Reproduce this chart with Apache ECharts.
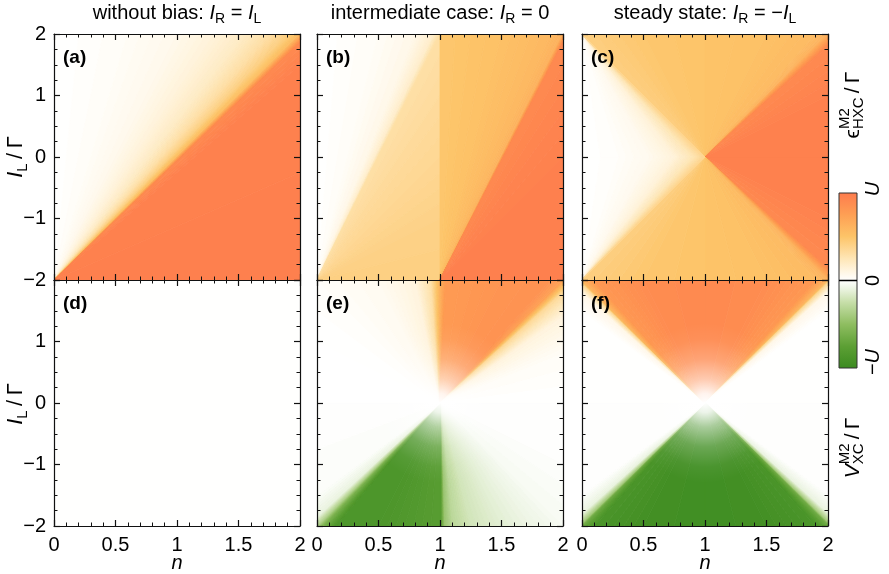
<!DOCTYPE html>
<html><head><meta charset="utf-8">
<script src="https://cdn.jsdelivr.net/npm/echarts/dist/echarts.min.js"></script>
<style>html,body{margin:0;padding:0;background:#fff}#c{width:889px;height:574px}</style>
</head><body><div id="c"></div>
<script>
// ---------------- data ----------------
const nTicks = [0, 0.5, 1, 1.5, 2];          // x axis: n
const iTicks = [-2, -1, 0, 1, 2];            // y axis: I_L / Gamma
const colorbarTicks = [1, 0, -1];
const colorbarLabels = ['U', '0', '−U'];
// colour scale (value in units of U)
const cmapValues = [-1, -0.75, -0.5, -0.25, -0.1, 0, 0.1, 0.25, 0.5, 0.75, 1];
const cmapColors = ['#3a8a1f','#5c9f34','#8ebd60','#c6dea8','#eaf3df','#ffffff','#fff6e3','#fee6b6','#fdc468','#fe9f54','#fe7b4d'];

// Each field is read off the picture as value sheets: rays from an apex [n, I],
// with the value (units of U) read where each ray meets the panel edge [n, I, value].
// (a) eps_HXC, I_R = I_L
const aApex = [0, -2];
const aFar = [[0,2,0.0],[0.6,2,0.03],[1.0,2,0.07],[1.3,2,0.13],[1.55,2,0.2],[1.75,2,0.3],[1.9,2,0.42],[2,2,0.55],[2,1.85,0.9],[2,1.5,0.95],[2,-2,0.97]];
// (b) eps_HXC, I_R = 0
const bLeftApex = [0, -2];
const bLeftFar = [[0,2,0.0],[0.5,2,0.03],[0.8,2,0.08],[0.95,2,0.18],[1,2,0.3],[1,1,0.33],[1,0,0.36],[1,-1,0.4],[1,-2,0.42]];
const bRightApex = [1, -2];
const bRightFar = [[1,2,0.48],[1.5,2,0.52],[1.9,2,0.58],[2,2,0.62],[2,1.85,0.9],[2,0,0.96],[2,-2,0.97]];
// (c) eps_HXC, I_R = -I_L
const cApex = [1, 0];
const cFar = [[0,2,0.42],[0.5,2,0.48],[1,2,0.5],[1.5,2,0.52],[1.9,2,0.56],[2,2,0.62],[2,1.8,0.9],[2,1,0.95],[2,0,0.96],[2,-1,0.95],[2,-1.8,0.9],[2,-2,0.62],[1.9,-2,0.56],[1.5,-2,0.52],[1,-2,0.5],[0.5,-2,0.48],[0,-2,0.42]];
const cUpApex = [0, 2];
const cUpFar = [[0,0,0.0],[0.3,0,0.02],[0.55,0,0.06],[0.75,0,0.13],[0.9,0,0.25],[1,0,0.38]];
const cLowApex = [0, -2];
const cLowFar = [[0,0,0.0],[0.3,0,0.02],[0.55,0,0.06],[0.75,0,0.13],[0.9,0,0.25],[1,0,0.38]];
// (d) V_XC, I_R = I_L
const dLevel = 0.004;
// (e) V_XC, I_R = 0
const eApex = [1, 0];
const eUpFar = [[0,0,0],[0,1,0.0],[0,2,0.02],[0.5,2,0.05],[0.8,2,0.12],[0.93,2,0.3],[1,2,0.6],[1.05,2,0.78],[1.5,2,0.82],[1.9,2,0.84],[2,2,0.75],[2,1.8,0.35],[2,1.4,0.12],[2,0.8,0.03],[2,0,0]];
const eLowFar = [[2,0,0],[2,-1,-0.01],[2,-2,-0.04],[1.8,-2,-0.07],[1.5,-2,-0.13],[1.25,-2,-0.2],[1.1,-2,-0.3],[1.03,-2,-0.45],[1,-2,-0.78],[0.5,-2,-0.86],[0.15,-2,-0.86],[0.05,-2,-0.6],[0,-2,-0.35],[0,-1.85,-0.1],[0,-1.5,-0.02],[0,0,0]];
const eGlow = [1, 0, 1.3];   // white fade around (n, I), radius in I units
// (f) V_XC, I_R = -I_L
const fApex = [1, 0];
const fUpFar = [[0,0,0],[0,1.5,0.01],[0,1.8,0.08],[0,1.95,0.35],[0,2,0.6],[0.1,2,0.8],[0.5,2,0.88],[1,2,0.9],[1.5,2,0.88],[1.9,2,0.8],[2,2,0.6],[2,1.95,0.35],[2,1.8,0.08],[2,1.5,0.01],[2,0,0]];
const fLowFar = [[2,0,0],[2,-1.5,-0.01],[2,-1.8,-0.1],[2,-1.95,-0.4],[2,-2,-0.65],[1.9,-2,-0.88],[1.5,-2,-0.93],[1,-2,-0.95],[0.5,-2,-0.93],[0.1,-2,-0.88],[0,-2,-0.65],[0,-1.95,-0.4],[0,-1.8,-0.1],[0,-1.5,-0.01],[0,0,0]];
const fGlow = [1, 0, 1.3];

const panelLetters = ['(a)','(b)','(c)','(d)','(e)','(f)'];

// ---------------- drawing ----------------
const FONT = '"Liberation Sans", Arial, Helvetica, sans-serif';
const panels = [
  [{apex:aApex, far:aFar}],
  [{apex:bLeftApex, far:bLeftFar},{apex:bRightApex, far:bRightFar}],
  [{apex:cApex, far:cFar},{apex:cUpApex, far:cUpFar},{apex:cLowApex, far:cLowFar}],
  [{fill:dLevel}],
  [{apex:eApex, far:eUpFar},{apex:eApex, far:eLowFar},{glow:eGlow}],
  [{apex:fApex, far:fUpFar},{apex:fApex, far:fLowFar},{glow:fGlow}]
];
const boxes = [[54,34],[317,34],[582,34],[54,280],[317,280],[582,280]];
const SZ = 246;

function hex2rgb(h){return [parseInt(h.substr(1,2),16),parseInt(h.substr(3,2),16),parseInt(h.substr(5,2),16)];}
const cmapRGB = cmapColors.map(hex2rgb);
function cmap(v){
  if (v <= cmapValues[0]) v = cmapValues[0];
  if (v >= cmapValues[cmapValues.length-1]) v = cmapValues[cmapValues.length-1];
  for (let i=0;i<cmapValues.length-1;i++){
    if (v <= cmapValues[i+1]){
      const t=(v-cmapValues[i])/(cmapValues[i+1]-cmapValues[i]);
      const a=cmapRGB[i], b=cmapRGB[i+1];
      return 'rgb('+[0,1,2].map(k=>Math.round(a[k]+(b[k]-a[k])*t)).join(',')+')';
    }
  }
}

function makeRender(shapes){
  return function(params, api){
    const s = shapes[params.dataIndex];
    const cs = params.coordSys;
    const kids = [];
    if (s.fill !== undefined){
      const p0 = api.coord([0,2]), p1 = api.coord([2,-2]);
      kids.push({type:'rect', shape:{x:p0[0],y:p0[1],width:p1[0]-p0[0],height:p1[1]-p0[1]}, style:{fill:cmap(s.fill)}});
    } else if (s.glow){
      const c = api.coord([s.glow[0], s.glow[1]]);
      const r = Math.abs(api.coord([s.glow[0], s.glow[1]+s.glow[2]])[1]-c[1]);
      kids.push({type:'circle', shape:{cx:c[0],cy:c[1],r:r}, style:{fill:new echarts.graphic.RadialGradient(0.5,0.5,0.5,[
        {offset:0,color:'rgba(255,255,255,1)'},{offset:0.12,color:'rgba(255,255,255,0.9)'},{offset:0.3,color:'rgba(255,255,255,0.55)'},
        {offset:0.55,color:'rgba(255,255,255,0.22)'},{offset:0.8,color:'rgba(255,255,255,0.05)'},{offset:1,color:'rgba(255,255,255,0)'}])}});
    } else {
      const A = api.coord(s.apex);
      const far = s.far;
      for (let i=0;i<far.length-1;i++){
        const p=far[i], q=far[i+1];
        const P=api.coord([p[0],p[1]]), Q=api.coord([q[0],q[1]]);
        const N=Math.min(40, Math.max(1, Math.ceil(Math.abs(q[2]-p[2])*80)));
        for (let k=0;k<N;k++){
          const t0=k/N, t1=(k+1)/N, tm=(k+0.5)/N;
          const P0=[P[0]+(Q[0]-P[0])*t0, P[1]+(Q[1]-P[1])*t0];
          const P1=[P[0]+(Q[0]-P[0])*t1, P[1]+(Q[1]-P[1])*t1];
          const col=cmap(p[2]+(q[2]-p[2])*tm);
          kids.push({type:'polygon', shape:{points:[A,P0,P1]}, style:{fill:col, stroke:col, lineWidth:0.8}});
        }
      }
    }
    return {type:'group', children:kids, clipPath:{type:'rect', shape:{x:cs.x,y:cs.y,width:cs.width,height:cs.height}}};
  };
}

const mctx = document.createElement('canvas').getContext('2d');
function tw(t, font){ mctx.font = font; return mctx.measureText(t).width; }
function rich(parts, x, y, rotation, size){
  const items=[]; let cx=0, pend=0;
  parts.forEach(([t,kind])=>{
    const it=kind.indexOf('it')>=0;
    const sub=kind.indexOf('sub')>=0, sup=kind.indexOf('sup')>=0, noAdv=kind.indexOf('0')>=0;
    const fs=(sub||sup)?Math.round(size*0.7):size;
    const font=(it?'italic ':'')+fs+'px '+FONT;
    const w=tw(t,font);
    const dy=sub?size*0.3:(sup?-size*0.4:0);
    items.push({type:'text', x:cx, y:dy, style:{text:t, font:font, fill:'#000', align:'left', verticalAlign:'middle', textAlign:'left', textVerticalAlign:'middle'}});
    if (noAdv){ pend=w; } else { cx += Math.max(w,pend); pend=0; }
  });
  items.forEach(e=>{e.x -= cx/2;});
  return {type:'group', x:x, y:y, rotation:rotation, children:items};
}

const fmt = v => (v<0?'−':'')+Math.abs(v);
const grid=[], xAxis=[], yAxis=[], series=[], graphic=[];
const axLine={show:true,onZero:false,lineStyle:{color:'#111',width:1.2}};
boxes.forEach((b,p)=>{
  grid.push({left:b[0], top:b[1], width:SZ, height:SZ});
  const bottomRow = p>=3;
  ['bottom','top'].forEach((pos,j)=>{
    xAxis.push({gridIndex:p, type:'value', min:nTicks[0], max:nTicks[nTicks.length-1], interval:0.5, position:pos, z:10,
      axisLine:axLine, splitLine:{show:false},
      axisTick:{show:true,inside:true,length:6,lineStyle:{color:'#111',width:1.2}},
      minorTick:{show:true,splitNumber:5,length:3.5,lineStyle:{color:'#111',width:1}},
      axisLabel:{show: j===0 && bottomRow, fontSize:20, fontFamily:FONT, color:'#000', margin:9,
        formatter: v => nTicks.indexOf(v)>=0 ? fmt(v) : ''}});
  });
  ['left','right'].forEach((pos,j)=>{
    yAxis.push({gridIndex:p, type:'value', min:iTicks[0], max:iTicks[iTicks.length-1], interval:1, position:pos, z:10,
      axisLine:axLine, splitLine:{show:false},
      axisTick:{show:true,inside:true,length:6,lineStyle:{color:'#111',width:1.2}},
      minorTick:{show:true,splitNumber:4,length:3.5,lineStyle:{color:'#111',width:1}},
      axisLabel:{show: j===0 && (p===0||p===3), fontSize:20, fontFamily:FONT, color:'#000', margin:8,
        formatter: v => (bottomRow && v===2) ? '' : fmt(v)}});
  });
  series.push({type:'custom', coordinateSystem:'cartesian2d', xAxisIndex:2*p, yAxisIndex:2*p, silent:true, clip:true, z:1,
    data: panels[p].map((s,i)=>[1,0,i]), renderItem: makeRender(panels[p])});
  graphic.push({type:'text', x:b[0]+9, y:b[1]+24, z:20, style:{text:panelLetters[p], font:'bold 19px '+FONT, fill:'#000', align:'left', verticalAlign:'middle', textAlign:'left', textVerticalAlign:'middle'}});
  if (bottomRow) graphic.push(rich([['n','it']], b[0]+SZ/2, 563, 0, 20));
});

// titles
graphic.push(rich([['without bias: ',''],['I','it'],['R','sub'],[' = ',''],['I','it'],['L','sub']], 177, 13, 0, 20));
graphic.push(rich([['intermediate case: ',''],['I','it'],['R','sub'],[' = 0','']], 440, 13, 0, 20));
graphic.push(rich([['steady state: ',''],['I','it'],['R','sub'],[' = −',''],['I','it'],['L','sub']], 705, 13, 0, 20));
// y names
[157, 404].forEach(y=>graphic.push(rich([['I','it'],['L','sub'],['\u2009/\u2009Γ','']], 16, y, Math.PI/2, 22)));
// right side quantity names
graphic.push(rich([['ϵ',''],['M2','sup0'],['HXC','sub'],['\u2009/\u2009Γ','']], 853, 105, Math.PI/2, 21));
graphic.push(rich([['V','it'],['M2','sup0'],['XC','sub'],['\u2009/\u2009Γ','']], 853, 448, Math.PI/2, 21));

// colour bar
const cbX=839, cbY=193, cbW=18, cbH=175;
const stops=[];
for (let i=cmapValues.length-1;i>=0;i--) stops.push({offset:(1-cmapValues[i])/2, color:cmapColors[i]});
graphic.push({type:'rect', shape:{x:cbX,y:cbY,width:cbW,height:cbH}, z:20,
  style:{fill:new echarts.graphic.LinearGradient(0,0,0,1,stops), stroke:'#333', lineWidth:1}});
graphic.push({type:'line', shape:{x1:cbX,y1:cbY+cbH/2,x2:cbX+cbW,y2:cbY+cbH/2}, z:21, style:{stroke:'#000',lineWidth:1.5}});
colorbarTicks.forEach((v,i)=>{
  const y = cbY + (1-v)/2*cbH;
  const lab = colorbarLabels[i];
  const parts = lab==='U'?[['U','it']]:(lab==='0'?[['0','']]:[['−',''],['U','it']]);
  graphic.push(rich(parts, 873, y + (v===1?-4:(v===-1?-6:0)), Math.PI/2, 20));
});

const chart = echarts.init(document.getElementById('c'), null, {renderer:'canvas'});
chart.setOption({animation:false, backgroundColor:'#fff', grid, xAxis, yAxis, series, graphic});
</script></body></html>
